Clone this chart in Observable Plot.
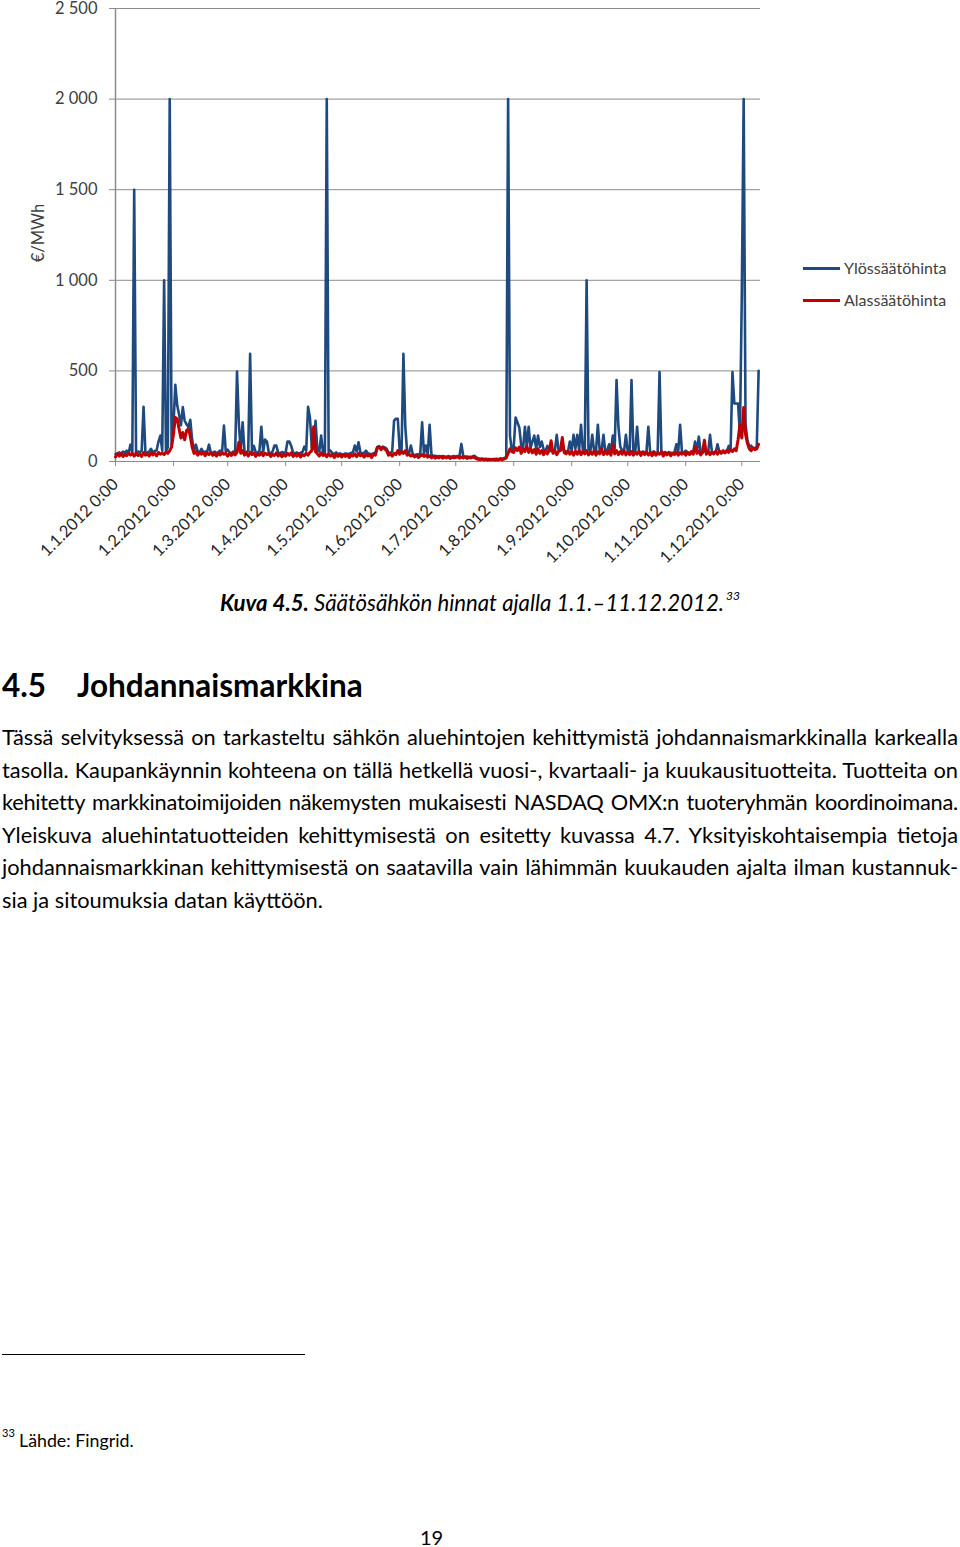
<!DOCTYPE html>
<html>
<head>
<meta charset="utf-8">
<script src="https://cdn.jsdelivr.net/npm/d3@7"></script>
<script src="https://cdn.jsdelivr.net/npm/@observablehq/plot@0.6"></script>
<style>
html, body { margin: 0; padding: 0; background: #fff; }
body { width: 960px; height: 1547px; position: relative; overflow: hidden; font-family: Lato, "Open Sans", sans-serif; color: #000; }
#chart { position: absolute; left: 0; top: 0; }
.abs { position: absolute; white-space: nowrap; }
#ytitle { left: 38px; top: 233px; font-size: 16.5px; color: #404040; transform: translate(-50%, -50%) rotate(-90deg); }
.legline { position: absolute; left: 803px; width: 37px; height: 3px; }
.legtext { position: absolute; left: 844px; font-size: 16px; color: #404040; line-height: 18px; }
#caption { left: 220px; top: 589px; font-size: 22.2px; font-style: italic; line-height: 28px; }
#caption sup { font-size: 12px; vertical-align: 0; position: relative; top: -11px; margin-left: 2px; }
.head { top: 667px; font-size: 31.5px; font-weight: bold; line-height: 36px; }
.pline { position: absolute; left: 2px; width: 956px; font-size: 21.8px; line-height: 32.6px; white-space: nowrap; text-align: justify; text-align-last: justify; }
.pline.last { text-align-last: left; }
.pline.tight { letter-spacing: -0.25px; }
#rule { position: absolute; left: 2px; top: 1354px; width: 303px; height: 1px; background: #000; }
#fnnum { left: 2px; top: 1426px; font-size: 11px; }
#fntext { left: 19px; top: 1429px; font-size: 17.8px; line-height: 22px; }
#pagenum { left: 420px; top: 1524px; font-size: 20px; line-height: 26px; }
</style>
</head>
<body>
<div id="chart"></div>
<div class="abs" id="ytitle">€/MWh</div>
<div class="legline" style="top:267px;background:#1f4a7f"></div>
<div class="legtext" style="top:259px">Ylössäätöhinta</div>
<div class="legline" style="top:299px;background:#c00000"></div>
<div class="legtext" style="top:291px">Alassäätöhinta</div>
<div class="abs" id="caption"><b>Kuva 4.5.</b> Säätösähkön hinnat ajalla 1.1.–11.12.2012.<sup>33</sup></div>
<div class="abs head" style="left:2px">4.5</div>
<div class="abs head" style="left:77px">Johdannaismarkkina</div>
<div class="pline" style="top:721px">Tässä selvityksessä on tarkasteltu sähkön aluehintojen kehittymistä johdannaismarkkinalla karkealla</div>
<div class="pline" style="top:753.6px">tasolla. Kaupankäynnin kohteena on tällä hetkellä vuosi-, kvartaali- ja kuukausituotteita. Tuotteita on</div>
<div class="pline tight" style="top:786.2px">kehitetty markkinatoimijoiden näkemysten mukaisesti NASDAQ OMX:n tuoteryhmän koordinoimana.</div>
<div class="pline" style="top:818.8px">Yleiskuva aluehintatuotteiden kehittymisestä on esitetty kuvassa 4.7. Yksityiskohtaisempia tietoja</div>
<div class="pline" style="top:851.4px">johdannaismarkkinan kehittymisestä on saatavilla vain lähimmän kuukauden ajalta ilman kustannuk-</div>
<div class="pline last" style="top:884px">sia ja sitoumuksia datan käyttöön.</div>
<div id="rule"></div>
<div class="abs" id="fnnum">33</div>
<div class="abs" id="fntext">Lähde: Fingrid.</div>
<div class="abs" id="pagenum">19</div>
<script>
// ---- data (daily readings, starting 1.1.2012) ----
const startYear = 2012;
const seriesNames = ["Ylössäätöhinta", "Alassäätöhinta"];
const up = [
  // Jan
  40,45,50,42,55,48,60,45,93,50, 1500,48,55,50,60,302,52,48,55,70, 50,58,62,110,143,60,1000,55,80,2000, 90,
  // Feb
  200,423,310,260,200,300,225,205,190,230, 120,60,93,55,50,70,48,55,52,93, 50,48,55,45,52,60,50,198,55,
  // Mar
  65,50,45,55,48,496,205,60,216,55, 50,60,595,55,86,50,48,60,192,55, 121,110,50,45,55,88,88,50,45,52, 48,
  // Apr
  50,110,110,86,48,45,50,42,48,52, 82,60,302,243,80,70,225,60,55,143, 50,45,2000,55,60,45,42,50,40,45,
  // May
  40,38,45,40,42,48,50,88,55,106, 50,45,48,60,45,42,40,45,50,80, 85,75,82,78,70,50,48,55,225,236, 236,
  // Jun
  60,55,595,192,50,45,88,40,35,38, 40,42,216,45,88,40,203,38,30,32, 28,30,26,30,28,25,30,26,28,30,
  // Jul
  28,30,32,97,30,25,28,24,26,28, 32,22,18,15,16,14,15,13,14,12, 14,13,15,12,18,14,20,25,2000,143, 60,
  // Aug
  80,243,216,187,90,70,192,80,192,75, 110,143,70,143,80,110,65,60,86,58, 60,55,60,147,62,58,70,60,55,52, 110,
  // Sep
  60,147,70,147,65,203,60,55,1000,70, 55,147,60,55,203,60,58,147,55,60, 95,58,143,70,449,192,82,60,55,147,
  // Oct
  55,50,449,55,50,192,52,48,55,50, 52,192,48,50,55,45,50,494,50,48, 52,45,50,48,45,52,95,55,203,50, 48,
  // Nov
  60,50,48,45,52,110,55,137,50,48, 60,52,50,147,55,48,50,95,55,50, 52,48,55,86,60,494,320,320,320,150,
  // Dec 1-10
  920,2000,200,120,80,88,70,75,80,500
];
const down = [
  // Jan
  25,42,30,45,28,40,32,48,35,44, 30,46,33,40,28,50,35,42,30,48, 36,45,32,50,40,46,38,52,45,60, 80,
  // Feb
  150,243,235,180,130,160,120,170,180,140, 80,45,55,35,48,40,50,32,46,38, 50,34,44,30,46,36,48,40,45,
  // Mar
  30,44,33,47,36,50,106,45,60,35, 48,30,50,38,45,28,42,35,50,32, 46,38,44,28,40,33,48,30,42,26, 40,
  // Apr
  30,45,35,48,28,40,30,44,25,38, 32,46,35,50,60,192,55,42,30,48, 33,40,26,44,30,40,22,36,28,38,
  // May
  25,38,28,40,22,35,30,42,26,45, 32,38,24,40,30,36,22,40,35,75, 80,65,78,70,60,35,42,30,45,38, 60,
  // Jun
  40,55,45,60,35,40,30,36,25,34, 22,30,38,28,35,24,32,20,28,18, 26,20,27,18,25,20,26,17,24,20,
  // Jul
  22,27,18,25,20,26,17,24,19,25, 22,15,12,10,13,9,12,8,11,9, 12,8,11,9,13,10,14,20,45,70, 55,
  // Aug
  50,75,60,80,45,70,55,85,50,72, 48,66,40,70,45,60,38,58,42,62, 115,45,60,38,55,65,132,50,42,58, 40,
  // Sep
  55,35,58,40,62,38,55,42,60,36, 52,40,58,35,54,42,70,38,55,40, 60,35,95,42,60,38,55,40,58,36,
  // Oct
  52,38,55,35,50,40,56,34,50,38, 54,36,48,32,52,35,46,40,55,30, 48,36,50,32,45,38,52,35,48,40, 50,
  // Nov
  35,50,38,55,40,80,45,58,36,52, 117,40,55,38,52,42,56,40,58,45, 60,48,62,50,65,55,70,60,120,203,
  // Dec 1-10
  130,298,150,100,70,60,75,65,70,95
];
const monthLabels = ["1.1.2012 0:00","1.2.2012 0:00","1.3.2012 0:00","1.4.2012 0:00","1.5.2012 0:00","1.6.2012 0:00",
                     "1.7.2012 0:00","1.8.2012 0:00","1.9.2012 0:00","1.10.2012 0:00","1.11.2012 0:00","1.12.2012 0:00"];
const yTicks = [0, 500, 1000, 1500, 2000, 2500];
const yLabels = ["0", "500", "1 000", "1 500", "2 000", "2 500"];

// ---- build ----
const dayDate = i => new Date(Date.UTC(startYear, 0, 1 + i));
const upData = up.map((v, i) => ({date: dayDate(i), value: v, series: seriesNames[0]}));
const downData = down.map((v, i) => ({date: dayDate(i), value: v, series: seriesNames[1]}));
const monthTicks = monthLabels.map((s, m) => new Date(Date.UTC(startYear, m, 1)));
const xStart = new Date(Date.UTC(startYear, 0, 1));
const xEnd = new Date(Date.UTC(startYear, 11, 11));
const blue = "#1f4a7f", red = "#c00000", grid = "#8c8c8c";

const chart = Plot.plot({
  width: 960,
  height: 580,
  marginTop: 8,
  marginRight: 200,
  marginBottom: 119,
  marginLeft: 115,
  style: {fontFamily: "Lato, sans-serif", fontSize: "16.5px", background: "transparent", overflow: "visible"},
  x: {type: "utc", domain: [xStart, xEnd]},
  y: {domain: [0, 2500]},
  marks: [
    Plot.gridY(yTicks, {stroke: grid, strokeOpacity: 1, strokeWidth: 1}),
    Plot.ruleX([xStart], {stroke: grid, strokeWidth: 1.5}),
    Plot.axisY(yTicks, {tickSize: 6, tickPadding: 12, stroke: grid, fill: "#404040",
      tickFormat: d => yLabels[yTicks.indexOf(d)], label: null}),
    Plot.axisX(monthTicks, {tickSize: 5, tickPadding: 15, tickRotate: -45, stroke: grid, fill: "#262626",
      tickFormat: d => monthLabels[d.getUTCMonth()], label: null}),
    Plot.line(upData, {x: "date", y: "value", stroke: blue, strokeWidth: 2.6}),
    Plot.line(downData, {x: "date", y: "value", stroke: red, strokeWidth: 3})
  ]
});
document.getElementById("chart").appendChild(chart);
</script>
</body>
</html>
